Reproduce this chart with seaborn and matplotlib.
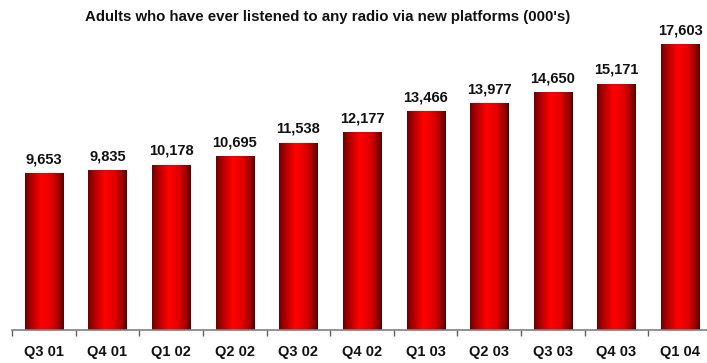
import numpy as np
import pandas as pd
import matplotlib
matplotlib.use("Agg")
import matplotlib.pyplot as plt
from matplotlib.colors import LinearSegmentedColormap
import seaborn as sns

quarters = ["Q3 01", "Q4 01", "Q1 02", "Q2 02", "Q3 02", "Q4 02",
            "Q1 03", "Q2 03", "Q3 03", "Q4 03", "Q1 04"]
listeners = [9653, 9835, 10178, 10695, 11538, 12177,
             13466, 13977, 14650, 15171, 17603]
title = "Adults who have ever listened to any radio via new platforms (000's)"

df = pd.DataFrame({"quarter": quarters, "listeners": listeners})

sns.set_theme(style="white")
plt.rcParams["font.family"] = ["Liberation Sans", "DejaVu Sans"]

W, H = 707, 363
fig = plt.figure(figsize=(W / 100, H / 100), dpi=100)
ax = fig.add_axes([12 / W, 33 / H, 700 / W, 300 / H])

sns.barplot(data=df, x="quarter", y="listeners", color="#e00000",
            width=0.6, ax=ax, saturation=1)

# cylindrical red shading across each bar
shade = LinearSegmentedColormap.from_list(
    "cyl", [(0.0, "#6a0000"), (0.12, "#a00000"), (0.42, "#ff0000"),
            (0.7, "#e00000"), (0.9, "#900000"), (1.0, "#550000")])
grad = np.linspace(0, 1, 256).reshape(1, -1)
for patch in ax.patches:
    x0, y0 = patch.get_x(), patch.get_y()
    w, h = patch.get_width(), patch.get_height()
    im = ax.imshow(grad, cmap=shade, aspect="auto",
                   extent=[x0, x0 + w, y0, y0 + h], zorder=patch.get_zorder())
    im.set_clip_path(patch)
    patch.set_edgecolor("none")

for i, v in enumerate(listeners):
    ax.annotate(f"{v:,}", (i, v), xytext=(0, 5), textcoords="offset points",
                ha="center", va="bottom", fontsize=10.5, fontweight="bold",
                color="#111111")

ax.set_xlim(-0.5, len(quarters) - 0.5)
ax.set_ylim(0, 18484)
ax.set_xlabel("")
ax.set_ylabel("")
ax.set_yticks([])

for side in ["top", "right", "left"]:
    ax.spines[side].set_visible(False)
ax.spines["bottom"].set_color("#808080")
ax.spines["bottom"].set_linewidth(1.2)

ax.set_xticks(np.arange(len(quarters)))
ax.set_xticklabels(quarters, fontsize=10.5, fontweight="bold", color="#111111")
ax.tick_params(axis="x", which="major", length=0, pad=11)
ax.set_xticks(np.arange(len(quarters)) - 0.5, minor=True)
ax.tick_params(axis="x", which="minor", direction="out", length=4,
               width=1, color="#606060", bottom=True)

fig.text(328 / W, 1 - 17 / H, title, ha="center", va="center",
         fontsize=10.8, fontweight="bold", color="#111111")

fig.savefig("out.png", dpi=100)
